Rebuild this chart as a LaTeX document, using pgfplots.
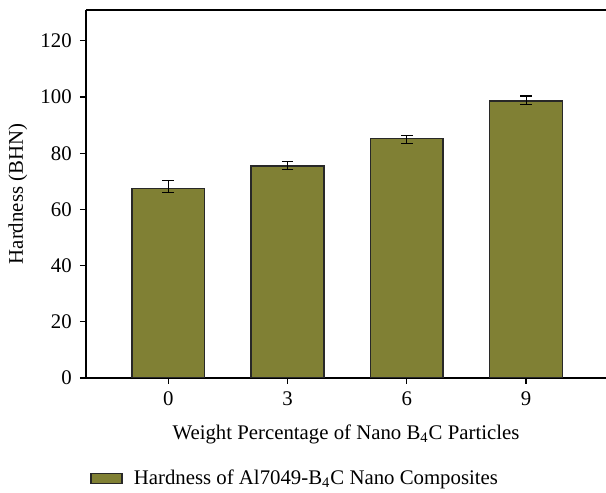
\documentclass[border=0pt]{standalone}
\usepackage{fontspec}
\setmainfont{Liberation Serif}
\usepackage{pgfplots}
\pgfplotsset{compat=1.18}

\definecolor{barolive}{RGB}{128,128,52}
\definecolor{baredge}{RGB}{40,40,40}

\newcommand{\chartfont}{\fontsize{10.4}{12.5}\selectfont}

\begin{document}
\chartfont
\begin{tikzpicture}
\path[use as bounding box] (-43pt,-57.35pt) rectangle (260pt,189pt);
\begin{axis}[
  at={(0,0)}, anchor=south west,
  scale only axis,
  width=260pt, height=184pt,
  xmin=-0.69, xmax=3.67,
  ymin=0, ymax=131,
  axis x line=box, axis y line=left,
  axis line style={line width=0.6pt, black, -},
  xtick={0,1,2,3},
  xticklabels={0,3,6,9},
  ytick={0,20,...,120},
  xtick pos=bottom, ytick pos=left,
  tick align=outside,
  major tick length=3pt,
  tick style={line width=0.6pt, black},
  /pgf/number format/assume math mode=true,
  tick label style={font=\chartfont},
  yticklabel style={xshift=-0.5pt},
  xlabel={Weight Percentage of Nano B\textsubscript{4}C Particles},
  ylabel={Hardness (BHN)},
  label style={font=\chartfont},
  every axis y label/.style={at={([xshift=-34pt]axis description cs:0,0.5)}, rotate=90, anchor=center},
  every axis x label/.style={at={([yshift=-28.4pt]axis description cs:0.5,0)}, anchor=center},
  legend style={at={(axis description cs:0,0)}, anchor=west, xshift=2pt, yshift=-50.35pt,
    draw=none, fill=none, inner xsep=0pt, font=\chartfont,
    legend cell align=left},
  legend image code/.code={\draw[fill=barolive, draw=baredge, line width=0.7pt] (0pt,-2.5pt) rectangle (15.5pt,2.5pt); \path (19pt,0pt);},
]
\addplot[ybar, bar width=0.61, fill=barolive, draw=baredge, line width=0.75pt,
  error bars/.cd, y dir=both, y explicit,
  error bar style={line width=0.55pt, black},
  error mark options={rotate=90, mark size=2.9pt, line width=0.55pt, black}]
  coordinates {
    (0,67.5) += (0,2.9) -= (0,1.4)
    (1,75.4) += (0,1.7) -= (0,1.3)
    (2,85.3) += (0,1.0) -= (0,1.7)
    (3,98.6) += (0,1.8) -= (0,1.4)
  };
\addlegendentry{Hardness of Al7049-B\textsubscript{4}C Nano Composites}
\end{axis}
\end{tikzpicture}
\end{document}
